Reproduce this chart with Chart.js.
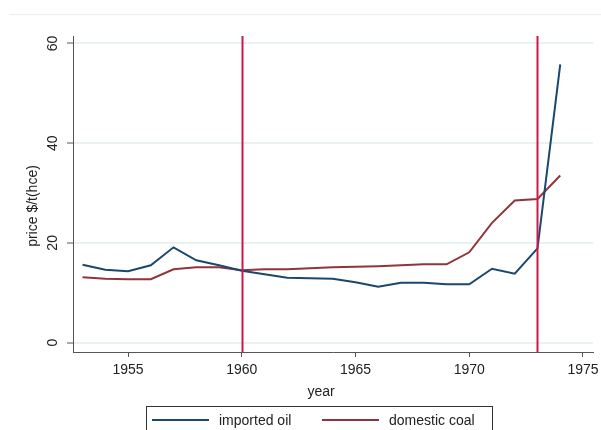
<!DOCTYPE html>
<html>
<head>
<meta charset="utf-8">
<script src="https://cdn.jsdelivr.net/npm/chart.js@4/dist/chart.umd.min.js"></script>
<style>
  html, body { margin: 0; padding: 0; background: #fff; }
  canvas { display: block; }
</style>
</head>
<body>
<canvas id="priceChart" width="601" height="430"></canvas>
<script>
// --- data ---
const years = [1953, 1954, 1955, 1956, 1957, 1958, 1959, 1960, 1961, 1962, 1963,
               1964, 1965, 1966, 1967, 1968, 1969, 1970, 1971, 1972, 1973, 1974];
const importedOil = [15.6, 14.6, 14.3, 15.5, 19.1, 16.5, 15.5, 14.4, 13.7, 13.0, 12.9,
                     12.8, 12.1, 11.2, 12.0, 12.0, 11.7, 11.7, 14.8, 13.8, 18.9, 55.8];
const domesticCoal = [13.1, 12.8, 12.7, 12.7, 14.7, 15.1, 15.1, 14.5, 14.7, 14.7, 14.9,
                      15.1, 15.2, 15.3, 15.5, 15.7, 15.7, 18.1, 24.0, 28.5, 28.8, 33.5];
const seriesNames = ['imported oil', 'domestic coal'];
const xTicks = [1955, 1960, 1965, 1970, 1975];
const yTicks = [0, 20, 40, 60];
const markerYears = [1960, 1973];

const oilColor = '#1a476f';
const coalColor = '#90353b';
const markerColor = '#cc1a48';
const font = 'Liberation Sans, Arial, sans-serif';

function points(vals) {
    return years.map((yr, i) => ({ x: yr, y: vals[i] }));
}

// stata-ish extras: rotated y labels, titles, xlines, legend box
const stataBits = {
    id: 'stataBits',
    afterDatasetsDraw(chart) {
        const { ctx, chartArea, scales: { x, y } } = chart;
        ctx.save();
        ctx.strokeStyle = markerColor;
        ctx.lineWidth = 2;
        markerYears.forEach(yr => {
            const px = Math.round(x.getPixelForValue(yr)) + 0.5;
            ctx.beginPath();
            ctx.moveTo(px, chartArea.top);
            ctx.lineTo(px, chartArea.bottom);
            ctx.stroke();
        });
        ctx.restore();
    },
    afterDraw(chart) {
        const { ctx, scales: { y } } = chart;
        ctx.save();

        // faint outer border line at the top
        ctx.strokeStyle = '#e6eef0';
        ctx.lineWidth = 1;
        ctx.beginPath();
        ctx.moveTo(9, 14.5);
        ctx.lineTo(601, 14.5);
        ctx.stroke();

        // y tick labels, rotated
        ctx.fillStyle = '#222';
        ctx.font = '14px ' + font;
        ctx.textAlign = 'center';
        ctx.textBaseline = 'middle';
        yTicks.forEach(v => {
            ctx.save();
            ctx.translate(53, y.getPixelForValue(v));
            ctx.rotate(-Math.PI / 2);
            ctx.fillText(String(v), 0, 0);
            ctx.restore();
        });

        // y title
        ctx.save();
        ctx.translate(33, 206);
        ctx.rotate(-Math.PI / 2);
        ctx.fillText('price $/t(hce)', 0, 0);
        ctx.restore();

        // x title
        ctx.fillText('year', 321, 392);

        // legend box
        ctx.strokeStyle = '#333';
        ctx.lineWidth = 1;
        ctx.strokeRect(146.5, 406.5, 346, 40);
        const items = [
            { name: seriesNames[0], color: oilColor, x0: 152 },
            { name: seriesNames[1], color: coalColor, x0: 322 }
        ];
        ctx.textAlign = 'left';
        items.forEach(it => {
            ctx.strokeStyle = it.color;
            ctx.lineWidth = 2;
            ctx.beginPath();
            ctx.moveTo(it.x0, 420);
            ctx.lineTo(it.x0 + 57, 420);
            ctx.stroke();
            ctx.fillStyle = '#222';
            ctx.fillText(it.name, it.x0 + 67, 421);
        });
        ctx.restore();
    }
};

new Chart(document.getElementById('priceChart'), {
    type: 'line',
    data: {
        datasets: [
            {
                label: seriesNames[0],
                data: points(importedOil),
                borderColor: oilColor,
                borderWidth: 2,
                pointRadius: 0,
                tension: 0
            },
            {
                label: seriesNames[1],
                data: points(domesticCoal),
                borderColor: coalColor,
                borderWidth: 2,
                pointRadius: 0,
                tension: 0
            }
        ]
    },
    options: {
        responsive: false,
        animation: false,
        layout: { padding: { top: 36, right: 8, left: 0, bottom: 0 } },
        plugins: {
            legend: { display: false },
            tooltip: { enabled: false }
        },
        scales: {
            x: {
                type: 'linear',
                min: 1952.58,
                max: 1975.44,
                afterBuildTicks: s => { s.ticks = xTicks.map(v => ({ value: v })); },
                afterFit: s => { s.height = 78; s.paddingLeft = 0; s.paddingRight = 0; },
                border: { color: '#555', width: 1 },
                grid: { drawOnChartArea: false, tickColor: '#555', tickLength: 5, tickWidth: 1 },
                ticks: {
                    color: '#222',
                    padding: 5,
                    maxRotation: 0,
                    font: { family: font, size: 14 },
                    callback: v => String(v)
                }
            },
            y: {
                type: 'linear',
                min: -1.9,
                max: 61.5,
                afterBuildTicks: s => { s.ticks = yTicks.map(v => ({ value: v })); },
                afterFit: s => { s.width = 73; s.paddingTop = 0; s.paddingBottom = 0; },
                border: { color: '#555', width: 1 },
                grid: { color: '#e9f1f3', lineWidth: 2, tickColor: '#555', tickLength: 6, tickWidth: 1 },
                ticks: { display: false }
            }
        }
    },
    plugins: [stataBits]
});
</script>
</body>
</html>
